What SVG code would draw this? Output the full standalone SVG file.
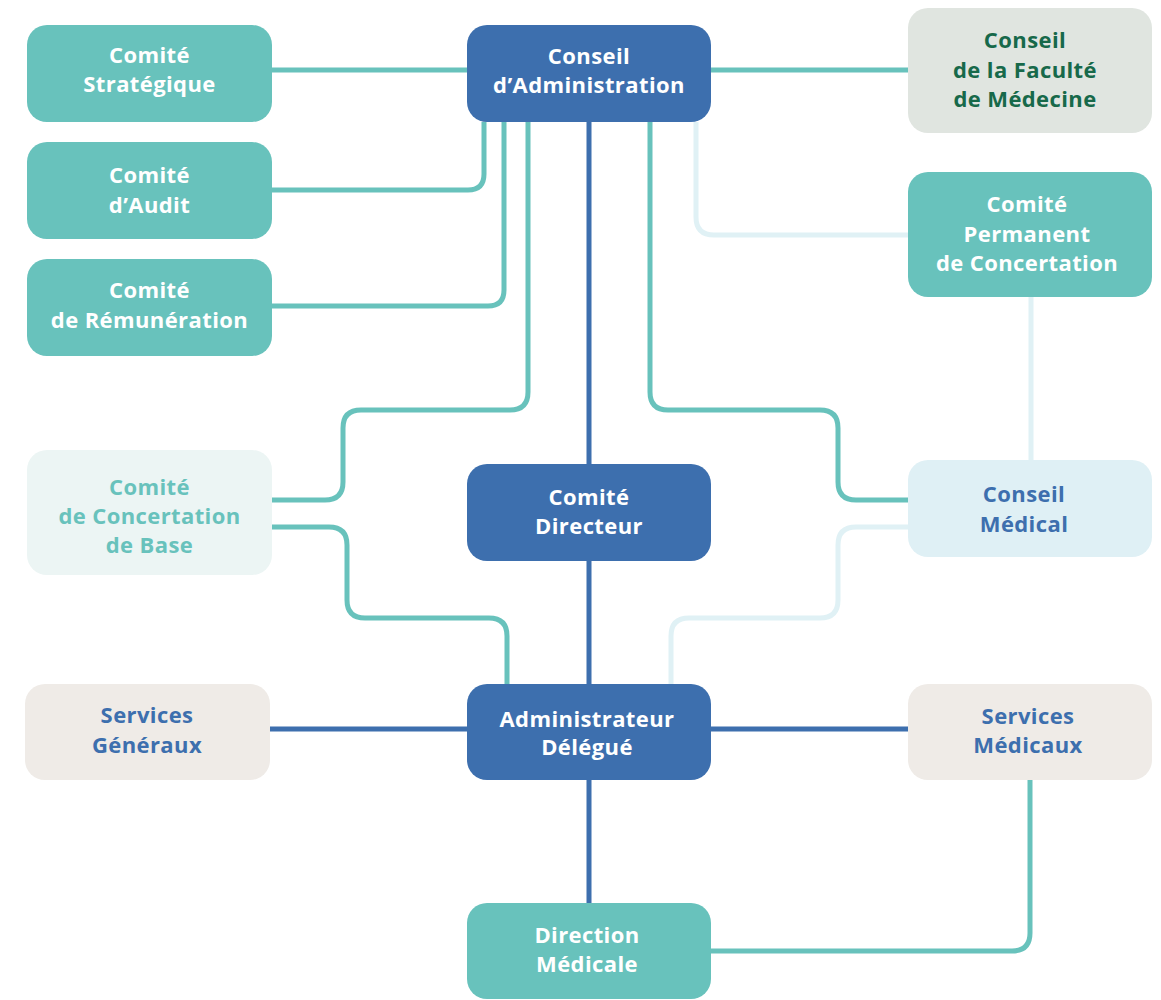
<svg xmlns="http://www.w3.org/2000/svg" width="1161" height="1000" viewBox="0 0 1161 1000">
<style>
.teal{fill:#68c2bc}
.blue{fill:#3d6fae}
.fac{fill:#e0e5e0}
.base{fill:#ecf5f4}
.med{fill:#dff0f5}
.serv{fill:#efebe7}
text{font-family:"Open Sans","Noto Sans",sans-serif;font-weight:700;font-size:22px;text-anchor:middle;letter-spacing:0.4px}
.tw{fill:#ffffff}
.tb{fill:#3d6fae}
.tg{fill:#17694a}
.tt{fill:#68c2bc}
.c{fill:none;stroke-width:5;stroke-linejoin:round}
.ct{stroke:#68c2bc}
.cb{stroke:#3d6fae}
.cl{stroke:#e0f1f5}
</style>
<rect width="1161" height="1000" fill="#ffffff"/>
<g id="connectors">
<path class="c ct" d="M272,70 H467"/>
<path class="c ct" d="M711,70 H908"/>
<path class="c ct" d="M484,122 V174 Q484,190 468,190 H272"/>
<path class="c ct" d="M504,122 V290 Q504,306 488,306 H272"/>
<path class="c ct" d="M528,122 V392 Q528,410 510,410 H361 Q343,410 343,428 V482 Q343,500 325,500 H272"/>
<path class="c ct" d="M272,527 H329 Q347,527 347,545 V600 Q347,618 365,618 H489 Q507,618 507,636 V684"/>
<path class="c ct" d="M650,122 V392 Q650,410 668,410 H820 Q838,410 838,428 V482 Q838,500 856,500 H908"/>
<path class="c cl" d="M696,122 V217 Q696,235 714,235 H908"/>
<path class="c cl" d="M1031,297 V460"/>
<path class="c cl" d="M908,527 H856 Q838,527 838,545 V600 Q838,618 820,618 H689 Q671,618 671,636 V684"/>
<path class="c ct" d="M1030,780 V933 Q1030,951 1012,951 H711"/>
<path class="c cb" d="M589,122 V464 M589,561 V684 M589,780 V903"/>
<path class="c cb" d="M270,729 H467 M711,729 H908"/>
</g>
<g id="comite-strategique"><rect class="teal" x="27" y="25" width="245" height="97" rx="20"/><text class="tw" x="149.5" y="63">Comité</text><text class="tw" x="149.5" y="92">Stratégique</text></g>
<g id="comite-audit"><rect class="teal" x="27" y="142" width="245" height="97" rx="20"/><text class="tw" x="149.5" y="183">Comité</text><text class="tw" x="149.5" y="213">d’Audit</text></g>
<g id="comite-remuneration"><rect class="teal" x="27" y="259" width="245" height="97" rx="20"/><text class="tw" x="149.5" y="298">Comité</text><text class="tw" x="149.5" y="328">de Rémunération</text></g>
<g id="conseil-administration"><rect class="blue" x="467" y="25" width="244" height="97" rx="20"/><text class="tw" x="589" y="64">Conseil</text><text class="tw" x="589" y="93">d’Administration</text></g>
<g id="conseil-faculte"><rect class="fac" x="908" y="8" width="244" height="125" rx="20"/><text class="tg" x="1025" y="48">Conseil</text><text class="tg" x="1025" y="78">de la Faculté</text><text class="tg" x="1025" y="107">de Médecine</text></g>
<g id="comite-permanent"><rect class="teal" x="908" y="172" width="244" height="125" rx="20"/><text class="tw" x="1027" y="212">Comité</text><text class="tw" x="1027" y="242">Permanent</text><text class="tw" x="1027" y="271">de Concertation</text></g>
<g id="comite-concertation-base"><rect class="base" x="27" y="450" width="245" height="125" rx="20"/><text class="tt" x="149.5" y="495">Comité</text><text class="tt" x="149.5" y="524">de Concertation</text><text class="tt" x="149.5" y="553">de Base</text></g>
<g id="comite-directeur"><rect class="blue" x="467" y="464" width="244" height="97" rx="20"/><text class="tw" x="589" y="505">Comité</text><text class="tw" x="589" y="534">Directeur</text></g>
<g id="conseil-medical"><rect class="med" x="908" y="460" width="244" height="97" rx="20"/><text class="tb" x="1024" y="502">Conseil</text><text class="tb" x="1024" y="532">Médical</text></g>
<g id="services-generaux"><rect class="serv" x="25" y="684" width="245" height="96" rx="20"/><text class="tb" x="147" y="723">Services</text><text class="tb" x="147" y="753">Généraux</text></g>
<g id="administrateur-delegue"><rect class="blue" x="467" y="684" width="244" height="96" rx="20"/><text class="tw" x="587" y="727">Administrateur</text><text class="tw" x="587" y="755">Délégué</text></g>
<g id="services-medicaux"><rect class="serv" x="908" y="684" width="244" height="96" rx="20"/><text class="tb" x="1028" y="724">Services</text><text class="tb" x="1028" y="753">Médicaux</text></g>
<g id="direction-medicale"><rect class="teal" x="467" y="903" width="244" height="96" rx="20"/><text class="tw" x="587" y="943">Direction</text><text class="tw" x="587" y="972">Médicale</text></g>
</svg>
